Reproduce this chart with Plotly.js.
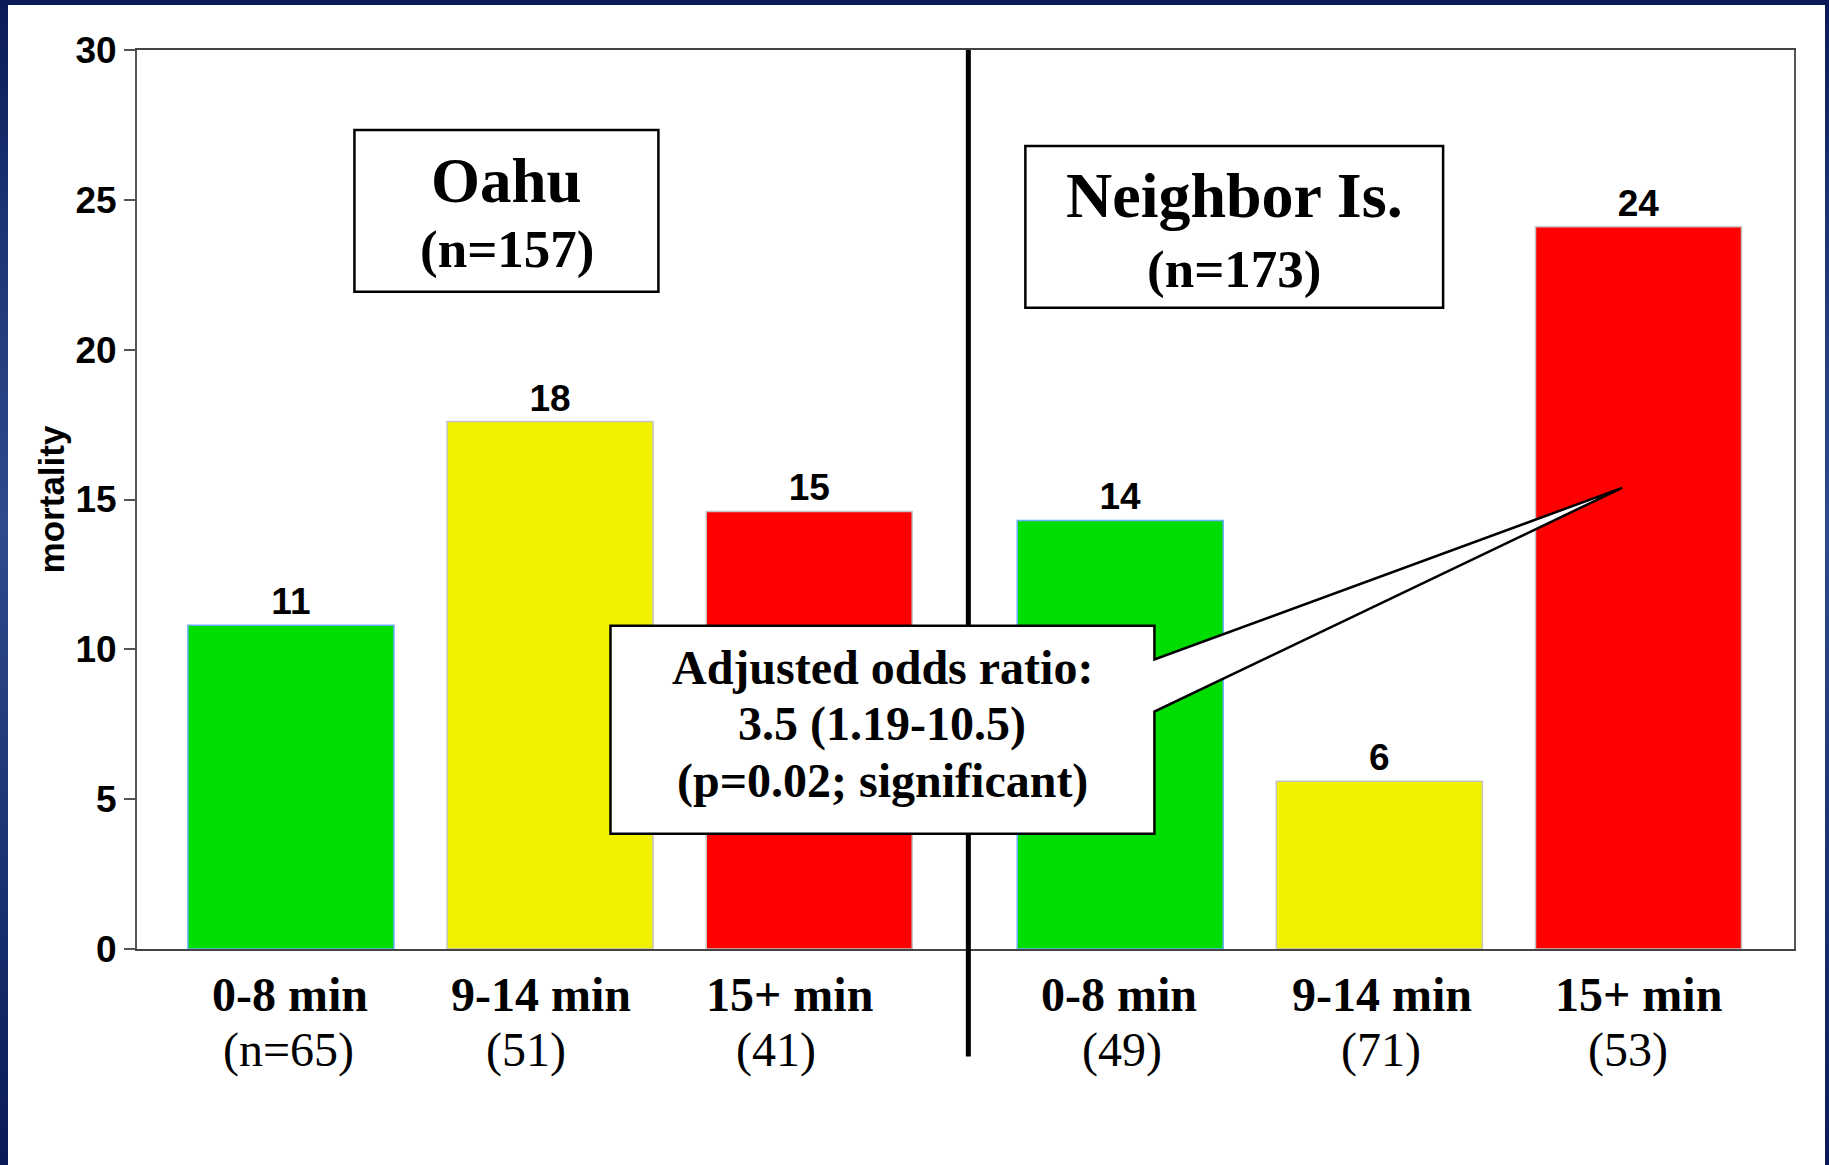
<!DOCTYPE html>
<html>
<head>
<meta charset="utf-8">
<script src="https://cdn.plot.ly/plotly-3.0.1.min.js"></script>
<style>
  html, body { margin: 0; padding: 0; width: 1829px; height: 1165px; overflow: hidden; }
  body {
    background: linear-gradient(180deg, #0a1a56 0%, #1d3577 20%, #2f4b8d 45%, #1a3172 75%, #0a1a56 100%);
    position: relative;
  }
  #chart { position: absolute; left: 8px; top: 5px; width: 1817px; height: 1160px; }
</style>
</head>
<body>
<div id="chart"></div>
<script>
// ---- data ----
const regions = ['Oahu', 'Neighbor Is.'];
const regionN = ['(n=157)', '(n=173)'];
const timeBins = ['0-8 min', '9-14 min', '15+ min'];
const binNOahu = ['(n=65)', '(51)', '(41)'];
const binNNeighbor = ['(49)', '(71)', '(53)'];
const mortalityOahu = [10.8, 17.6, 14.6];
const mortalityNeighbor = [14.3, 5.6, 24.1];
const binColors = ['#00dd00', '#f2f200', '#ff0000'];
const binEdgeColors = ['#6aaefc', '#c4c4c4', '#c4c4c4'];
const calloutLines = ['Adjusted odds ratio:', '3.5 (1.19-10.5)', '(p=0.02; significant)'];

// ---- layout helpers (not data) ----
const GROUP_GAP = 0.2;
const xOahu = timeBins.map((_, i) => i);
const xNeighbor = timeBins.map((_, i) => i + timeBins.length + GROUP_GAP);
const allX = xOahu.concat(xNeighbor);
const binRow = timeBins.concat(timeBins);
const nRow = binNOahu.concat(binNNeighbor);
// horizontal nudges (px) of the category captions, as placed in the original slide
const binShiftPx = [-1, -9, -20, -1, 3, 0];
const nShiftPx = [-2, -24, -33, 2, 2, -11];

const SANS = 'Liberation Sans, Arial, sans-serif';
const SERIF = 'Liberation Serif, Times New Roman, serif';

function barTrace(name, xs, ys) {
  return {
    type: 'bar', name: name, x: xs, y: ys, width: 0.795,
    marker: { color: binColors, line: { color: binEdgeColors, width: 1.5 } },
    text: ys.map(v => String(Math.round(v))),
    textposition: 'outside',
    textfont: { family: SANS, size: 37, color: '#000', weight: 'bold' },
    cliponaxis: false,
    hoverinfo: 'x+y', showlegend: false
  };
}

const data = [
  barTrace(regions[0], xOahu, mortalityOahu),
  barTrace(regions[1], xNeighbor, mortalityNeighbor)
];

const divX = (xOahu[xOahu.length - 1] + xNeighbor[0]) / 2 + 0.014;
const tipX = xNeighbor[2] - 0.063;

// callout bubble geometry (data coords)
const cb = { x0: 1.233, x1: 3.332, yTop: 10.79, yBot: 3.85, j1: 9.66, j2: 7.92, tx: tipX, ty: 15.39 };
const calloutPath = `M ${cb.x0},${cb.yTop} L ${cb.x1},${cb.yTop} L ${cb.x1},${cb.j1} L ${cb.tx},${cb.ty} L ${cb.x1},${cb.j2} L ${cb.x1},${cb.yBot} L ${cb.x0},${cb.yBot} Z`;

const annotations = [
  { xref: 'x', yref: 'y', x: 0.832, y: 25.62, text: '<b>' + regions[0] + '</b>', showarrow: false,
    font: { family: SERIF, size: 63, color: '#000' }, xanchor: 'center', yanchor: 'middle' },
  { xref: 'x', yref: 'y', x: 0.832, y: 23.33, text: '<b>' + regionN[0] + '</b>', showarrow: false,
    font: { family: SERIF, size: 53, color: '#000' }, xanchor: 'center', yanchor: 'middle' },
  { xref: 'x', yref: 'y', x: 3.640, y: 25.13, text: '<b>' + regions[1] + '</b>', showarrow: false,
    font: { family: SERIF, size: 64, color: '#000' }, xanchor: 'center', yanchor: 'middle' },
  { xref: 'x', yref: 'y', x: 3.640, y: 22.66, text: '<b>' + regionN[1] + '</b>', showarrow: false,
    font: { family: SERIF, size: 53, color: '#000' }, xanchor: 'center', yanchor: 'middle' }
];

calloutLines.forEach((line, i) => {
  annotations.push({
    xref: 'x', yref: 'y', x: (cb.x0 + cb.x1) / 2, y: 7.50, yshift: (1 - i) * 56.7,
    text: '<b>' + line + '</b>', showarrow: false,
    font: { family: SERIF, size: 48, color: '#000' }, xanchor: 'center', yanchor: 'middle'
  });
});

allX.forEach((x, i) => {
  annotations.push({
    xref: 'x', yref: 'paper', x: x, y: 0, xshift: binShiftPx[i], yshift: -45.5,
    text: '<b>' + binRow[i] + '</b>', showarrow: false,
    font: { family: SERIF, size: 48, color: '#000' }, xanchor: 'center', yanchor: 'middle'
  });
  annotations.push({
    xref: 'x', yref: 'paper', x: x, y: 0, xshift: nShiftPx[i], yshift: -100.5,
    text: nRow[i], showarrow: false,
    font: { family: SERIF, size: 48, color: '#000' }, xanchor: 'center', yanchor: 'middle'
  });
});

const layout = {
  width: 1817, height: 1160,
  margin: { l: 128.5, r: 31, t: 45, b: 215.5 },
  paper_bgcolor: '#ffffff', plot_bgcolor: '#ffffff',
  barmode: 'overlay',
  bargap: 0,
  xaxis: {
    range: [-0.594, 5.8],
    showticklabels: false,
    ticks: '', showgrid: false, zeroline: false,
    showline: true, linecolor: '#444', linewidth: 2, mirror: true,
    fixedrange: true
  },
  yaxis: {
    range: [0, 30], dtick: 5,
    tickfont: { family: SANS, size: 37, color: '#000', weight: 'bold' },
    ticks: 'outside', ticklen: 11, tickwidth: 2, tickcolor: '#555',
    showgrid: false, zeroline: false,
    showline: true, linecolor: '#555', linewidth: 2, mirror: true,
    title: { text: 'mortality', font: { family: SANS, size: 35, color: '#000', weight: 'bold' }, standoff: 0 },
    fixedrange: true
  },
  shapes: [
    { type: 'line', xref: 'x', yref: 'paper', x0: divX, x1: divX, y0: 1, y1: -0.1195,
      line: { color: '#000', width: 5 } },
    { type: 'rect', xref: 'x', yref: 'y', x0: 0.245, x1: 1.418, y0: 21.93, y1: 27.33,
      fillcolor: '#fff', line: { color: '#000', width: 2.5 } },
    { type: 'rect', xref: 'x', yref: 'y', x0: 2.834, x1: 4.446, y0: 21.4, y1: 26.8,
      fillcolor: '#fff', line: { color: '#000', width: 2.5 } },
    { type: 'path', xref: 'x', yref: 'y', path: calloutPath,
      fillcolor: '#fff', line: { color: '#000', width: 2.5 } }
  ],
  annotations: annotations
};

Plotly.newPlot('chart', data, layout, { displayModeBar: false, staticPlot: true });
</script>
</body>
</html>
